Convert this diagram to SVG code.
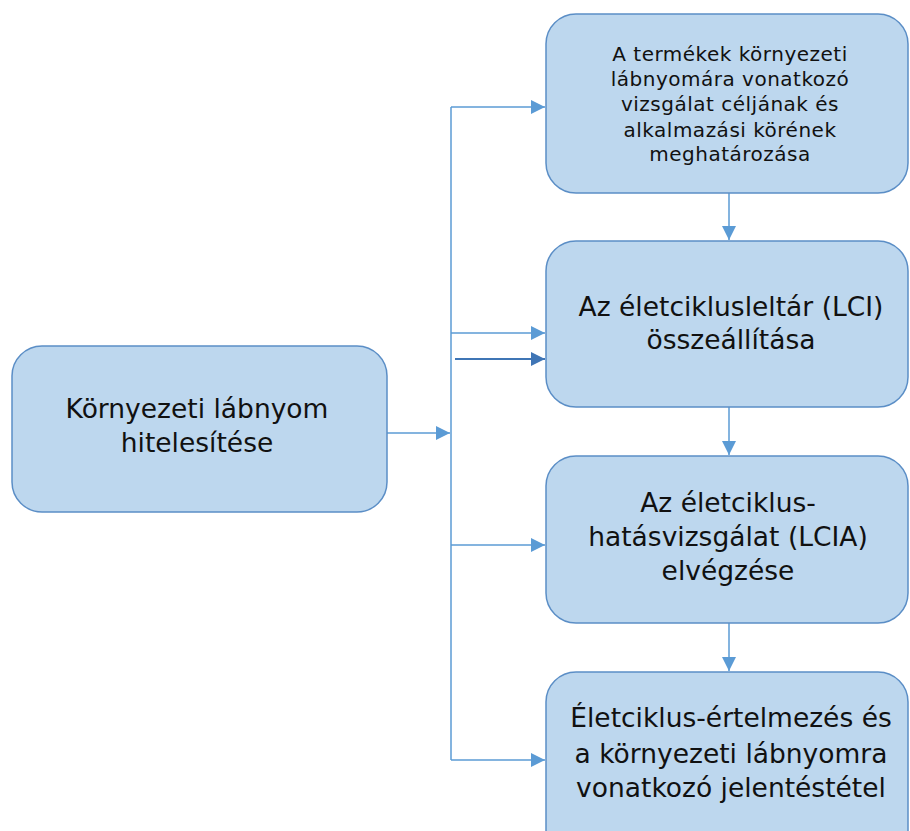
<svg xmlns="http://www.w3.org/2000/svg" width="910" height="831" viewBox="0 0 910 831">
  <style>
    .box { fill: #BDD7EE; stroke: #5B8EC6; stroke-width: 1.5; }
    .lbl { font-family: "DejaVu Sans", Verdana, sans-serif; fill: #111; text-anchor: middle; }
    .sm { font-size: 20px; letter-spacing: 0.5px; }
    .lg { font-size: 26.5px; }
    .conn { fill: none; stroke: #5B9BD5; stroke-width: 1.5; }
    .dark { stroke: #3F75B5; stroke-width: 2.2; }
  </style>
  <defs>
    <marker id="arr" viewBox="0 0 14 14" refX="14" refY="7" markerWidth="14" markerHeight="14" markerUnits="userSpaceOnUse" orient="auto">
      <path d="M0,0 L14,7 L0,14 Z" fill="#5B9BD5"/>
    </marker>
    <marker id="arrDark" viewBox="0 0 14 14" refX="14" refY="7" markerWidth="14" markerHeight="14" markerUnits="userSpaceOnUse" orient="auto">
      <path d="M0,0 L14,7 L0,14 Z" fill="#3F75B5"/>
    </marker>
  </defs>

  <g id="connectors">
    <path class="conn" d="M387,433 H450" marker-end="url(#arr)"/>
    <path class="conn" d="M451,107 V760"/>
    <path class="conn" d="M451,107 H545" marker-end="url(#arr)"/>
    <path class="conn" d="M451,333 H545" marker-end="url(#arr)"/>
    <path class="conn dark" d="M455,359 H545" marker-end="url(#arrDark)"/>
    <path class="conn" d="M451,545 H545" marker-end="url(#arr)"/>
    <path class="conn" d="M451,760 H545" marker-end="url(#arr)"/>
    <path class="conn" d="M729,193 V240" marker-end="url(#arr)"/>
    <path class="conn" d="M729,407 V455" marker-end="url(#arr)"/>
    <path class="conn" d="M729,623 V671" marker-end="url(#arr)"/>
  </g>

  <g id="verify">
    <rect class="box" x="12" y="346" width="375" height="166" rx="30"/>
    <text class="lbl lg" x="197" y="418">Környezeti lábnyom</text>
    <text class="lbl lg" x="197" y="452">hitelesítése</text>
  </g>

  <g id="scope">
    <rect class="box" x="546" y="14" width="362" height="179" rx="30"/>
    <text class="lbl sm" x="730" y="61">A termékek környezeti</text>
    <text class="lbl sm" x="730" y="86">lábnyomára vonatkozó</text>
    <text class="lbl sm" x="730" y="111">vizsgálat céljának és</text>
    <text class="lbl sm" x="730" y="137">alkalmazási körének</text>
    <text class="lbl sm" x="730" y="161">meghatározása</text>
  </g>

  <g id="lci">
    <rect class="box" x="546" y="241" width="362" height="166" rx="30"/>
    <text class="lbl lg" x="731" y="316">Az életciklusleltár (LCI)</text>
    <text class="lbl lg" x="731" y="349">összeállítása</text>
  </g>

  <g id="lcia">
    <rect class="box" x="546" y="456" width="362" height="167" rx="30"/>
    <text class="lbl lg" x="728" y="512">Az életciklus-</text>
    <text class="lbl lg" x="728" y="546">hatásvizsgálat (LCIA)</text>
    <text class="lbl lg" x="728" y="580">elvégzése</text>
  </g>

  <g id="report">
    <rect class="box" x="546" y="672" width="362" height="190" rx="30"/>
    <text class="lbl lg" x="731" y="727">Életciklus-értelmezés és</text>
    <text class="lbl lg" x="731" y="763">a környezeti lábnyomra</text>
    <text class="lbl lg" x="731" y="797">vonatkozó jelentéstétel</text>
  </g>
</svg>
